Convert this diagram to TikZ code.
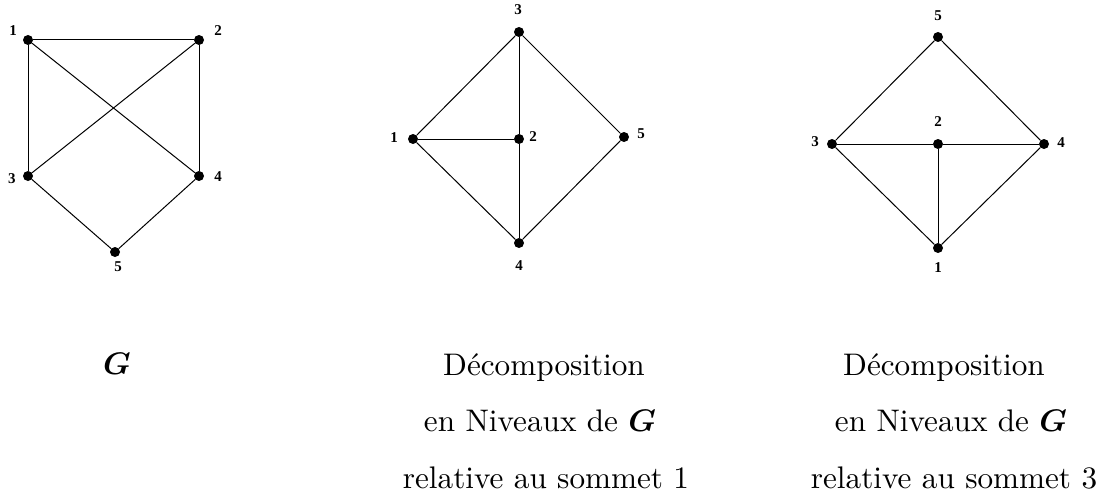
\documentclass[tikz,border=0pt]{standalone}
\usepackage{fontspec}
\usepackage{bm}
\newfontfamily\labfont{Liberation Serif}
\tikzset{
  vtx/.style={circle,fill=black,inner sep=0pt,minimum size=10pt},
  lab/.style={font=\labfont\bfseries\fontsize{15}{15}\selectfont,inner sep=0pt},
  edge/.style={line width=1pt},
  captxt/.style={font=\fontsize{10}{12}\selectfont,inner sep=0pt,anchor=base,scale=3.12}
}
\begin{document}
\begin{tikzpicture}[x=1pt,y=-1pt]
\useasboundingbox (0,0) rectangle (1104,495);
% Graph G
\node[vtx] (a1) at (28,40) {};
\node[vtx] (a2) at (199,40) {};
\node[vtx] (a3) at (28,176) {};
\node[vtx] (a4) at (199,176) {};
\node[vtx] (a5) at (115,252) {};
\node[lab] (la1) at (13,31) {1};
\node[lab] (la2) at (218,31) {2};
\node[lab] (la3) at (12,179) {3};
\node[lab] (la4) at (218,177) {4};
\node[lab] (la5) at (118,267) {5};
\draw[edge] (a1) -- (a2);
\draw[edge] (a1) -- (a3);
\draw[edge] (a1) -- (a4);
\draw[edge] (a2) -- (a3);
\draw[edge] (a2) -- (a4);
\draw[edge] (a3) -- (a5);
\draw[edge] (a4) -- (a5);
% Graph 2
\node[vtx] (b3) at (519,32) {};
\node[vtx] (b1) at (413,139) {};
\node[vtx] (b2) at (519,139) {};
\node[vtx] (b5) at (624,137) {};
\node[vtx] (b4) at (519,243) {};
\node[lab] (lb3) at (518,10) {3};
\node[lab] (lb1) at (394,138) {1};
\node[lab] (lb2) at (533,137) {2};
\node[lab] (lb5) at (641,134) {5};
\node[lab] (lb4) at (519,266) {4};
\draw[edge] (b3) -- (b1);
\draw[edge] (b3) -- (b5);
\draw[edge] (b3) -- (b2);
\draw[edge] (b2) -- (b4);
\draw[edge] (b1) -- (b2);
\draw[edge] (b1) -- (b4);
\draw[edge] (b5) -- (b4);
% Graph 3
\node[vtx] (c5) at (938,37) {};
\node[vtx] (c3) at (832,144) {};
\node[vtx] (c2) at (938,144) {};
\node[vtx] (c4) at (1044,144) {};
\node[vtx] (c1) at (938,248) {};
\node[lab] (lc5) at (938,16) {5};
\node[lab] (lc3) at (815,142) {3};
\node[lab] (lc2) at (938,122) {2};
\node[lab] (lc4) at (1061,143) {4};
\node[lab] (lc1) at (938,268) {1};
\draw[edge] (c5) -- (c3);
\draw[edge] (c5) -- (c4);
\draw[edge] (c3) -- (c2);
\draw[edge] (c2) -- (c4);
\draw[edge] (c2) -- (c1);
\draw[edge] (c3) -- (c1);
\draw[edge] (c4) -- (c1);
% Captions
\node[captxt] (g) at (117,374) {$\bm{G}$};
\node[captxt] (t1a) at (544,375) {Décomposition};
\node[captxt] (t1b) at (540,431) {en Niveaux de $\bm{G}$};
\node[captxt] (t1c) at (546,488) {relative au sommet 1};
\node[captxt] (t2a) at (944,375) {Décomposition};
\node[captxt] (t2b) at (951,431) {en Niveaux de $\bm{G}$};
\node[captxt] (t2c) at (954,488) {relative au sommet 3};
\end{tikzpicture}
\end{document}
